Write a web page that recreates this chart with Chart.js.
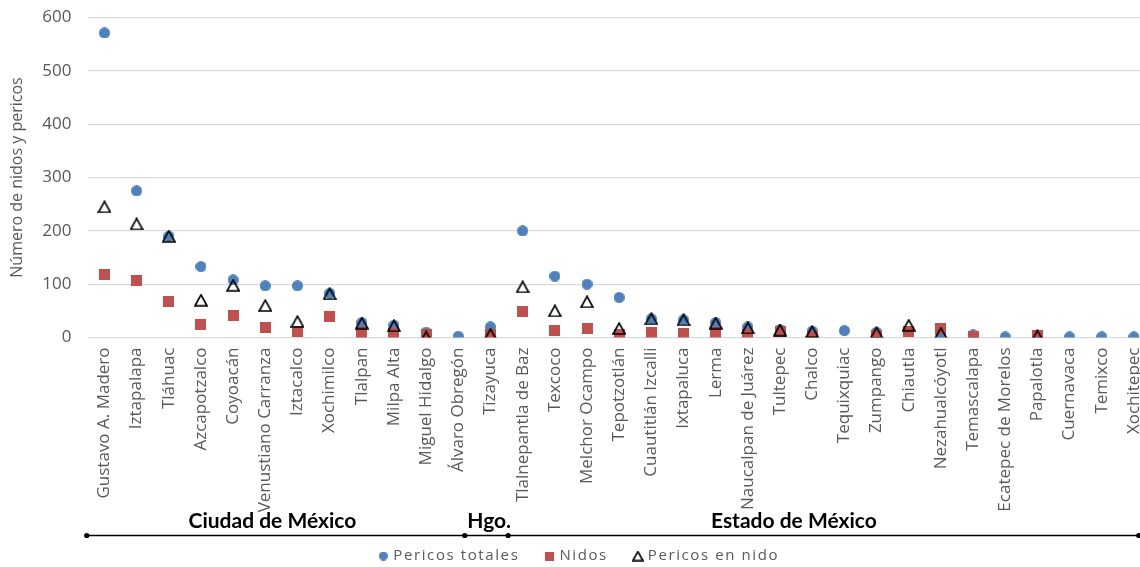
<!DOCTYPE html>
<html>
<head>
<meta charset="utf-8">
<script src="https://cdn.jsdelivr.net/npm/chart.js@4.4.1/dist/chart.umd.min.js"></script>
<style>
  html, body { margin: 0; padding: 0; background: #fff; overflow: hidden; }
  #wrap { position: relative; width: 1157px; height: 567px; }
</style>
</head>
<body>
<div id="wrap"><canvas id="grafica"></canvas></div>
<script>
// Municipios / alcaldías
const municipios = [
  'Gustavo A. Madero', 'Iztapalapa', 'Tláhuac', 'Azcapotzalco', 'Coyoacán',
  'Venustiano Carranza', 'Iztacalco', 'Xochimilco', 'Tlalpan', 'Milpa Alta',
  'Miguel Hidalgo', 'Álvaro Obregón', 'Tizayuca', 'Tlalnepantla de Baz', 'Texcoco',
  'Melchor Ocampo', 'Tepotzotlán', 'Cuautitlán Izcalli', 'Ixtapaluca', 'Lerma',
  'Naucalpan de Juárez', 'Tultepec', 'Chalco', 'Tequixquiac', 'Zumpango',
  'Chiautla', 'Nezahualcóyotl', 'Temascalapa', 'Ecatepec de Morelos', 'Papalotla',
  'Cuernavaca', 'Temixco', 'Xochitepec'
];

const pericosTotales = [571, 275, 190, 133, 108, 97, 97, 83, 28, 23, 10, 2, 20, 200, 115, 100, 75, 35, 33, 28, 20, 15, 12, 13, 10, 11, 8, 5, 1, 3, 1, 1, 1];
const nidos          = [118, 106, 68, 25, 42, 18, 11, 39, 9, 7, 5, null, 6, 48, 13, 16, 5, 10, 8, 10, 6, 11, 1, null, 4, 11, 17, 1, null, 3, null, null, null];
const pericosEnNido  = [245, 213, 190, 70, 98, 60, 30, 82, 27, 22, 1, null, 6, 95, 50, 67, 17, 35, 33, 27, 18, 14, 11, null, 9, 23, 8, null, null, 3, null, null, null];

const yTicks = [0, 100, 200, 300, 400, 500, 600];

// Regiones bajo el eje
const regiones = ['Ciudad de México', 'Hgo.', 'Estado de México'];

const AZUL = '#4F81BD';
const ROJO = '#C0504D';
const GRIS = '#595959';

// Marcadores dibujados en lienzos pequeños
function marcador(tipo, w, h, color) {
  const c = document.createElement('canvas');
  c.width = w; c.height = h;
  const g = c.getContext('2d');
  if (tipo === 'circulo') {
    g.fillStyle = color;
    g.beginPath(); g.arc(w / 2, h / 2, w / 2, 0, Math.PI * 2); g.fill();
  } else if (tipo === 'cuadro') {
    g.fillStyle = color;
    g.fillRect(0, 0, w, h);
  } else {
    g.strokeStyle = color;
    g.lineWidth = 1.7;
    g.lineJoin = 'miter';
    g.beginPath();
    g.moveTo(w / 2, 1.2);
    g.lineTo(w - 1, h - 1);
    g.lineTo(1, h - 1);
    g.closePath();
    g.stroke();
  }
  return c;
}

const mkCirculo = marcador('circulo', 11, 11, AZUL);
const mkCuadro = marcador('cuadro', 11, 11, ROJO);
const mkTriangulo = marcador('triangulo', 14, 13, '#000');
const iconosLeyenda = [
  marcador('circulo', 9, 9, AZUL),
  marcador('cuadro', 9, 9, ROJO),
  marcador('triangulo', 12, 11, '#000')
];

// Llaves de región y sus nombres
const llavesRegion = {
  id: 'llavesRegion',
  afterDraw(chart) {
    const { ctx, chartArea } = chart;
    const x = chart.scales.x;
    const base = chartArea.bottom;
    const limites = [-0.55, 11.2, 12.55, 32.15];
    const centros = [5.22, 11.96, 21.43];
    ctx.save();
    ctx.font = 'bold 21px Lato';
    ctx.fillStyle = '#000';
    ctx.textAlign = 'center';
    ctx.textBaseline = 'middle';
    regiones.forEach((r, i) => ctx.fillText(r, x.getPixelForValue(centros[i]), base + 184));
    const yl = base + 198;
    ctx.strokeStyle = '#000';
    ctx.lineWidth = 1.3;
    ctx.beginPath();
    ctx.moveTo(x.getPixelForValue(limites[0]), yl);
    ctx.lineTo(x.getPixelForValue(limites[3]), yl);
    ctx.stroke();
    limites.forEach(v => {
      ctx.beginPath();
      ctx.arc(x.getPixelForValue(v), yl, 2.6, 0, Math.PI * 2);
      ctx.fill();
    });
    ctx.restore();
  }
};

// Leyenda con letras algo espaciadas
const espaciadoLeyenda = {
  id: 'espaciadoLeyenda',
  beforeLayout(chart) {
    const lg = chart.legend;
    if (!lg || lg._espaciado) return;
    lg._espaciado = true;
    ['fit', 'draw'].forEach(fn => {
      const orig = lg[fn];
      lg[fn] = function (...args) {
        const ctx = this.ctx;
        const prev = ctx.letterSpacing;
        ctx.letterSpacing = '1.6px';
        try { return orig.apply(this, args); } finally { ctx.letterSpacing = prev; }
      };
    });
  }
};

new Chart(document.getElementById('grafica'), {
  type: 'line',
  data: {
    labels: municipios,
    datasets: [
      { label: 'Pericos totales', data: pericosTotales, pointStyle: mkCirculo, order: 3 },
      { label: 'Nidos', data: nidos, pointStyle: mkCuadro, order: 2 },
      { label: 'Pericos en nido', data: pericosEnNido, pointStyle: mkTriangulo, order: 1 }
    ]
  },
  options: {
    responsive: true,
    maintainAspectRatio: false,
    animation: false,
    showLine: false,
    layout: { padding: { top: 17.5, left: 4, right: 1, bottom: 0 } },
    elements: { point: { radius: 6, hoverRadius: 6 } },
    scales: {
      x: {
        offset: true,
        grid: { display: false, drawTicks: false },
        border: { display: false },
        ticks: {
          autoSkip: false,
          minRotation: 90,
          maxRotation: 90,
          padding: 10,
          color: GRIS,
          font: { family: 'Open Sans', size: 17 }
        },
        afterFit(scale) {
          scale.height = 183.5;
          scale.paddingLeft = 0;
          scale.paddingRight = 0;
        }
      },
      y: {
        min: 0,
        max: 600,
        afterBuildTicks(scale) { scale.ticks = yTicks.map(v => ({ value: v })); },
        afterFit(scale) {
          // tick padding is counted on both sides of the labels; keep only one
          scale.width -= 17;
          scale.paddingTop = 0;
          scale.paddingBottom = 0;
        },
        grid: { color: '#D9D9D9', lineWidth: 1.3, drawTicks: false },
        border: { display: false },
        ticks: {
          padding: 17,
          color: GRIS,
          font: { family: 'Open Sans', size: 17 }
        },
        title: {
          display: true,
          text: 'Número de nidos y pericos',
          color: GRIS,
          font: { family: 'Open Sans', size: 16 },
          padding: { top: 4, bottom: 15 }
        }
      }
    },
    plugins: {
      tooltip: { enabled: false },
      legend: {
        position: 'bottom',
        maxHeight: 46,
        labels: {
          usePointStyle: true,
          boxWidth: 5,
          boxHeight: 8,
          padding: 27.5,
          color: GRIS,
          font: { family: 'Open Sans', size: 15 },
          sort: (a, b) => a.datasetIndex - b.datasetIndex,
          generateLabels(chart) {
            const items = Chart.defaults.plugins.legend.labels.generateLabels(chart);
            items.forEach(it => { it.pointStyle = iconosLeyenda[it.datasetIndex]; });
            return items;
          }
        }
      }
    }
  },
  plugins: [llavesRegion, espaciadoLeyenda]
});
</script>
</body>
</html>
